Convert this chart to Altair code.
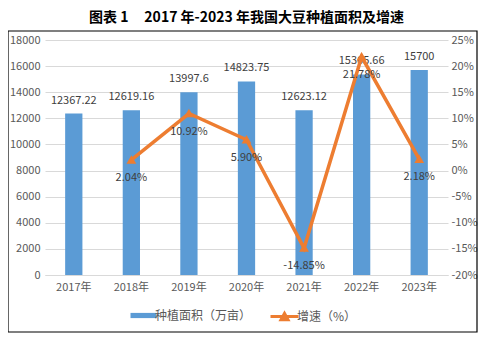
import altair as alt
import pandas as pd

years = ["2017年", "2018年", "2019年", "2020年", "2021年", "2022年", "2023年"]
area = [12367.22, 12619.16, 13997.6, 14823.75, 12623.12, 15365.66, 15700]
area_labels = ["12367.22", "12619.16", "13997.6", "14823.75", "12623.12", "15365.66", "15700"]
growth = [None, 2.04, 10.92, 5.90, -14.85, 21.78, 2.18]
growth_labels = ["", "2.04%", "10.92%", "5.90%", "-14.85%", "21.78%", "2.18%"]
area_ticks = list(range(0, 18001, 2000))
growth_ticks = list(range(-20, 26, 5))

df = pd.DataFrame({
    "year": years,
    "area": area,
    "area_label": area_labels,
    "growth": growth,
    "growth_label": growth_labels,
    "s1": ["种植面积（万亩）"] * 7,
    "s2": ["增速（%）"] * 7,
})
gdf = df.dropna(subset=["growth"])

BLUE = "#5B9BD5"
ORANGE = "#ED7D31"
FONT = "Noto Sans CJK SC"
GREY = "#595959"

x_axis = alt.Axis(labelAngle=0, labelColor=GREY, labelFontSize=11, labelFont=FONT,
                  domainColor="#D9D9D9", ticks=False, labelPadding=6)
x = alt.X("year:N", sort=years, title=None,
          scale=alt.Scale(paddingInner=0.7, paddingOuter=0.35), axis=x_axis)

ya_axis = alt.Axis(values=area_ticks, tickCount=10, format="d", labelOverlap=False,
                   labelColor=GREY, labelFontSize=11, labelFont=FONT, domain=False,
                   ticks=False, gridColor="#D9D9D9", labelPadding=5)
ya_scale = alt.Scale(domain=[0, 18000], nice=False)

yg_axis = alt.Axis(orient="right", values=growth_ticks, tickCount=10,
                   labelExpr="datum.value + '%'", labelOverlap=False, labelColor=GREY,
                   labelFontSize=11, labelFont=FONT, domain=False, ticks=False, grid=False,
                   labelPadding=3)
yg_scale = alt.Scale(domain=[-20, 25], nice=False)

bars = alt.Chart(df).mark_bar(color=BLUE).encode(
    x=x,
    y=alt.Y("area:Q", title=None, scale=ya_scale, axis=ya_axis),
    fill=alt.Fill("s1:N", scale=alt.Scale(range=[BLUE]),
                  legend=alt.Legend(title=None, orient="none", legendX=91, legendY=268,
                                    symbolType="M-2,-0.4H2V0.4H-2Z", symbolSize=169,
                                    labelFontSize=12, labelColor=GREY, labelFont=FONT)),
)

bar_text = alt.Chart(df).mark_text(dy=-13, fontSize=11, color="#404040", font=FONT).encode(
    x=x,
    y=alt.Y("area:Q", title=None, scale=ya_scale, axis=ya_axis),
    text="area_label:N",
)

line = alt.Chart(gdf).mark_line(strokeWidth=3.5, point=alt.OverlayMarkDef(shape="triangle-up", size=40, filled=True, color=ORANGE)).encode(
    x=x,
    y=alt.Y("growth:Q", title=None, scale=yg_scale, axis=yg_axis),
    stroke=alt.Stroke("s2:N", scale=alt.Scale(range=[ORANGE]),
                      legend=alt.Legend(title=None, orient="none", legendX=231, legendY=268,
                                        symbolType="M-2,0H2M-0.5,0.45L0,-0.45L0.5,0.45Z",
                                        symbolSize=196, symbolStrokeWidth=3,
                                        symbolFillColor=ORANGE,
                                        labelFontSize=12, labelColor=GREY, labelFont=FONT)),
)

line_text = alt.Chart(gdf).mark_text(dy=18, fontSize=11, color="#404040", font=FONT).encode(
    x=x,
    y=alt.Y("growth:Q", title=None, scale=yg_scale, axis=yg_axis),
    text="growth_label:N",
)

border = alt.Chart(pd.DataFrame({"a": [0]})).mark_rect(
    fill=None, stroke="black", strokeWidth=1.2, clip=False
).encode(x=alt.value(-37), x2=alt.value(432), y=alt.value(-9), y2=alt.value(292))

left = alt.layer(bars, bar_text)
right = alt.layer(line, line_text)

chart = alt.layer(left, right, border).resolve_scale(
    y="independent", fill="independent", stroke="independent"
).properties(
    width=403, height=235,
    title=alt.TitleParams("图表 1\u00a0\u00a0\u00a0\u00a0\u00a02017 年-2023 年我国大豆种植面积及增速",
                          font=FONT, fontSize=14, fontWeight="bold", color="black",
                          anchor="middle", offset=5),
    autosize=alt.AutoSizeParams(type="none"),
    padding={"left": 37, "top": 32, "right": 30, "bottom": 60},
).configure_view(stroke=None)

chart.save("out.html", embed_options={"renderer": "svg", "actions": False})
